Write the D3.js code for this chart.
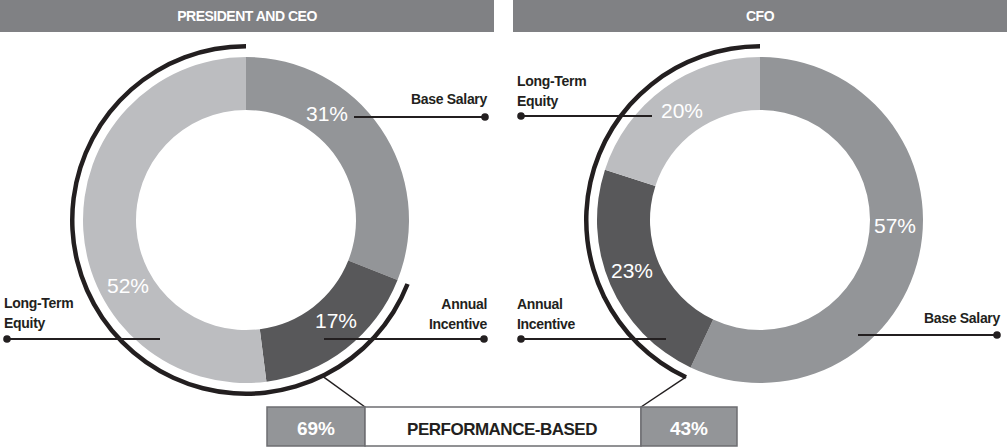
<!DOCTYPE html>
<html>
  <head>
    <script src="https://d3js.org/d3.v7.min.js"></script>
    <style>
      body { margin: 0; background: #fff; }
      text { font-family: "Liberation Sans", Arial, Helvetica, sans-serif; }
    </style>
  </head>
  <body>
<script type="text/javascript">
// data
var categories = ['Base Salary', 'Annual Incentive', 'Long-Term Equity'];
var categoryLines = [['Base Salary'], ['Annual', 'Incentive'], ['Long-Term', 'Equity']];
var panelTitles = ['PRESIDENT AND CEO', 'CFO'];
var ceoValues = [31, 17, 52];
var cfoValues = [57, 23, 20];
var performanceBased = [69, 43];
var performanceLabel = 'PERFORMANCE-BASED';

var width = 1007;
var height = 447;
var colors = d3.scaleOrdinal().domain(categories).range(['#939598', '#58585a', '#bcbdc0']);

var svg = d3.select('body').append('svg')
      .attr('width', width)
      .attr('height', height);

// layout of the two panels (positions only)
var panels = [
  {
    title: panelTitles[0], values: ceoValues, bar: [0, 494], cx: 246, cy: 220, perf: performanceBased[0],
    pct: [[327, 121], [336, 328], [128, 293]],
    lead: [
      {y: 117, x1: 354, x2: 485, tx: 487, ty: 104, anchor: 'end'},
      {y: 339, x1: 324, x2: 484, tx: 487, ty: 309, anchor: 'end'},
      {y: 339, x1: 160, x2: 7, tx: 4, ty: 308, anchor: 'start'}
    ],
    connectAngle: 154, connectTo: [365, 407]
  },
  {
    title: panelTitles[1], values: cfoValues, bar: [513, 1007], cx: 760, cy: 220, perf: performanceBased[1],
    pct: [[895, 233], [632, 278], [682, 118]],
    lead: [
      {y: 335, x1: 858, x2: 997, tx: 1000, ty: 323, anchor: 'end'},
      {y: 339, x1: 666, x2: 521, tx: 517, ty: 309, anchor: 'start'},
      {y: 116, x1: 652, x2: 521, tx: 517, ty: 86, anchor: 'start'}
    ],
    connectAngle: null, connectTo: [641, 407]
  }
];

var pie = d3.pie().sort(null).value(function(d) { return d; });
var arc = d3.arc().innerRadius(110).outerRadius(163);
var perfArc = d3.arc().innerRadius(171.5).outerRadius(176);

panels.forEach(function(p) {
  // header bar
  svg.append('rect')
      .attr('x', p.bar[0]).attr('y', 0)
      .attr('width', p.bar[1] - p.bar[0]).attr('height', 32)
      .attr('fill', '#808184');
  svg.append('text')
      .attr('x', (p.bar[0] + p.bar[1]) / 2).attr('y', 21)
      .attr('text-anchor', 'middle')
      .attr('fill', '#fff')
      .attr('font-size', '14px').attr('font-weight', 'bold')
      .attr('letter-spacing', '-0.5px')
      .text(p.title);

  var slices = pie(p.values);
  var g = svg.append('g').attr('transform', 'translate(' + p.cx + ',' + p.cy + ')');

  g.selectAll('path.slice')
      .data(slices)
      .enter()
      .append('path')
      .attr('class', 'slice')
      .attr('d', arc)
      .attr('fill', function(d, i) { return colors(categories[i]); });

  // performance-based arc: annual incentive + long-term equity
  var start = slices[1].startAngle;
  g.append('path')
      .attr('d', perfArc({startAngle: start, endAngle: 2 * Math.PI}))
      .attr('fill', '#231f20');

  var a = p.connectAngle == null ? start : p.connectAngle * Math.PI / 180;
  var r = 173.5;
  svg.append('line')
      .attr('x1', p.cx + r * Math.sin(a)).attr('y1', p.cy - r * Math.cos(a))
      .attr('x2', p.connectTo[0]).attr('y2', p.connectTo[1])
      .attr('stroke', '#231f20').attr('stroke-width', 1.5);

  // leader lines and labels
  p.lead.forEach(function(l, i) {
    svg.append('line')
        .attr('x1', l.x1).attr('x2', l.x2).attr('y1', l.y).attr('y2', l.y)
        .attr('stroke', '#231f20').attr('stroke-width', 2);
    svg.append('circle')
        .attr('cx', l.x2).attr('cy', l.y).attr('r', 3.8)
        .attr('fill', '#231f20');
    var t = svg.append('text')
        .attr('text-anchor', l.anchor)
        .attr('fill', '#231f20')
        .attr('font-size', '14px').attr('font-weight', 'bold')
        .attr('letter-spacing', '-0.3px');
    categoryLines[i].forEach(function(line, k) {
      t.append('tspan').attr('x', l.tx).attr('y', l.ty + k * 20).text(line);
    });
  });

  svg.selectAll(null)
      .data(slices)
      .enter()
      .append('text')
      .attr('x', function(d, i) { return p.pct[i][0]; })
      .attr('y', function(d, i) { return p.pct[i][1]; })
      .attr('text-anchor', 'middle')
      .attr('fill', '#fff')
      .attr('font-size', '21px')
      .text(function(d) { return d.value + '%'; });
});

// performance-based box
var box = {x0: 267, x1: 365, x2: 641, x3: 737, y: 407, h: 39};
svg.append('rect')
    .attr('x', box.x0).attr('y', box.y).attr('width', box.x1 - box.x0).attr('height', box.h)
    .attr('fill', '#939598').attr('stroke', '#6d6e71').attr('stroke-width', 1.5);
svg.append('rect')
    .attr('x', box.x1).attr('y', box.y).attr('width', box.x2 - box.x1).attr('height', box.h)
    .attr('fill', '#fff').attr('stroke', '#6d6e71').attr('stroke-width', 1.5);
svg.append('rect')
    .attr('x', box.x2).attr('y', box.y).attr('width', box.x3 - box.x2).attr('height', box.h)
    .attr('fill', '#939598').attr('stroke', '#6d6e71').attr('stroke-width', 1.5);

svg.append('text')
    .attr('x', (box.x0 + box.x1) / 2).attr('y', 435)
    .attr('text-anchor', 'middle').attr('fill', '#fff')
    .attr('font-size', '19px').attr('font-weight', 'bold')
    .text(panels[0].perf + '%');
svg.append('text')
    .attr('x', (box.x2 + box.x3) / 2).attr('y', 435)
    .attr('text-anchor', 'middle').attr('fill', '#fff')
    .attr('font-size', '19px').attr('font-weight', 'bold')
    .text(panels[1].perf + '%');
svg.append('text')
    .attr('x', (box.x1 + box.x2) / 2 - 1).attr('y', 435)
    .attr('text-anchor', 'middle').attr('fill', '#231f20')
    .attr('font-size', '17px').attr('font-weight', 'bold')
    .attr('letter-spacing', '-0.5px')
    .text(performanceLabel);
</script>
  </body>
</html>
